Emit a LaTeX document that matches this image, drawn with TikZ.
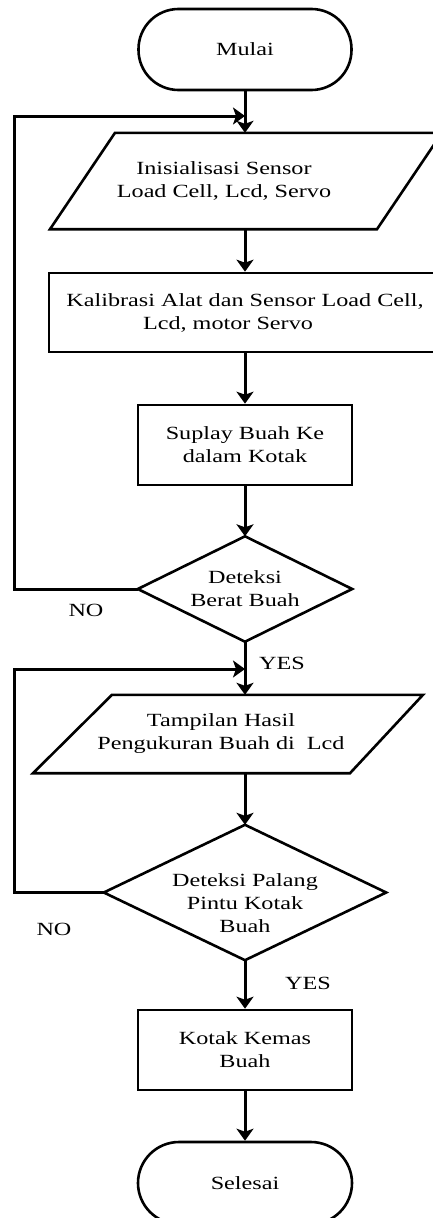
\documentclass[tikz,border=0pt]{standalone}
\usepackage{fontspec}
\newfontfamily\lbl{Liberation Serif}[FakeStretch=1.3]
\usetikzlibrary{arrows.meta,calc}
\begin{document}
\begin{tikzpicture}[x=1pt,y=-1pt,
  shp/.style={draw, line width=2.6pt},
  hold/.style={inner sep=0pt, align=center, font=\lbl\fontsize{18.6}{23}\selectfont},
  term/.style={hold, draw, line width=2.6pt, rounded corners=40pt, minimum width=213pt, minimum height=81pt},
  box/.style={hold, draw, line width=2.6pt},
  arr/.style={line width=3pt, -{Stealth[length=12pt,width=17pt,inset=3pt]}},
  lab/.style={font=\lbl\fontsize{18.6}{23}\selectfont, inner sep=0pt}]
\useasboundingbox (0,0) rectangle (432,1218);
\fill[white] (0,0) rectangle (432,1218);

% nodes
\node[term] (mulai) at (245,49.5) {Mulai};
\node[hold, minimum height=96pt] (p1) at (224,181) {Inisialisasi Sensor\\Load Cell, Lcd, Servo};
\draw[shp] ($(p1.north)+(-109,0)$) -- ($(p1.north)+(218,0)$) -- ($(p1.south)+(153,0)$) -- ($(p1.south)+(-174,0)$) -- cycle;
\node[box, minimum width=392pt, minimum height=79pt] (kal) at (245,312.5) {Kalibrasi Alat dan Sensor Load Cell,\\Lcd, motor Servo\hspace{34pt}\mbox{}};
\node[box, minimum width=214pt, minimum height=80pt] (sup) at (245,445) {Suplay Buah Ke\\dalam Kotak};
\node[hold, minimum width=214pt, minimum height=105pt] (d1) at (245,589) {Deteksi\\Berat Buah};
\draw[shp] (d1.north) -- (d1.east) -- (d1.south) -- (d1.west) -- cycle;
\node[hold, minimum height=78pt] (p2) at (221,734) {Tampilan Hasil\\Pengukuran Buah di\ \ Lcd};
\draw[shp] ($(p2.north)+(-109,0)$) -- ($(p2.north)+(202,0)$) -- ($(p2.south)+(129,0)$) -- ($(p2.south)+(-188,0)$) -- cycle;
\node[hold, minimum width=282pt, minimum height=135pt] (d2) at (245,892.5) {\rule{0pt}{35pt}Deteksi Palang\\Pintu Kotak\\Buah};
\draw[shp] (d2.north) -- (d2.east) -- (d2.south) -- (d2.west) -- cycle;
\node[box, minimum width=214pt, minimum height=80pt] (kem) at (245,1050) {Kotak Kemas\\Buah};
\node[term, minimum width=214pt, minimum height=82pt, rounded corners=41pt] (sel) at (245,1183) {Selesai};

% labels
\node[lab] (no1) at (86,610) {NO};
\node[lab] (yes1) at (282,663) {YES};
\node[lab] (no2) at (54,929) {NO};
\node[lab] (yes2) at (308,983) {YES};

% connectors
\coordinate (c1) at (14,116);
\coordinate (j1) at (245,116);
\coordinate (c2) at (14,669);
\coordinate (j2) at (245,669);
\draw[arr] (mulai.south) -- (mulai.south |- p1.north);
\draw[arr] (kal.north |- p1.south) -- (kal.north);
\draw[arr] (kal.south) -- (sup.north);
\draw[arr] (sup.south) -- (d1.north);
\draw[arr] (d1.south) -- (d1.south |- p2.north);
\draw[arr] (d1.south |- p2.south) -- (d2.north);
\draw[arr] (d2.south) -- (kem.north);
\draw[arr] (kem.south) -- (sel.north);
\draw[arr] (d1.west) -| (c1) -- (j1);
\draw[arr] (d2.west) -| (c2) -- (j2);
\end{tikzpicture}
\end{document}
